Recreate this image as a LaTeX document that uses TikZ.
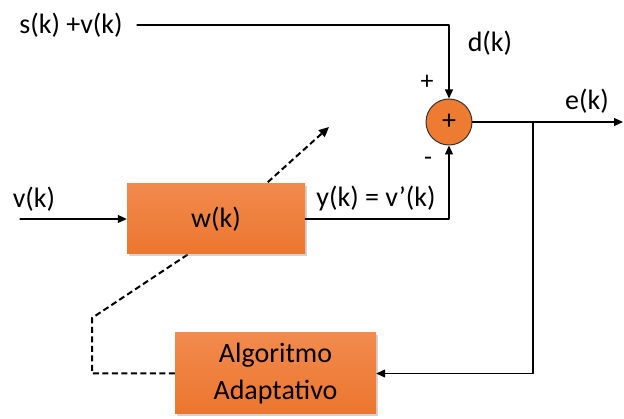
\documentclass[tikz,border=0pt]{standalone}
\usepackage{fontspec}
\setmainfont{Carlito}
\usetikzlibrary{arrows.meta,shadows,backgrounds}

\definecolor{boxtop}{RGB}{242,138,78}
\definecolor{boxbottom}{RGB}{236,118,46}
\definecolor{sumfill}{RGB}{237,124,50}

\begin{document}
\begin{tikzpicture}[
  x=1pt,
  y=-1pt,
  line cap=round,
  line join=round,
  font=\fontsize{28}{37}\selectfont,
  filter box/.style={rectangle, draw=none, top color=boxtop, bottom color=boxbottom,
    drop shadow={opacity=0.35, shadow xshift=2pt, shadow yshift=-2pt},
    align=center, inner sep=0pt},
  sum node/.style={circle, draw=black!80, fill=sumfill, line width=1pt,
    minimum size=46pt, inner sep=0pt},
  sig arrow/.style={->, >={Triangle[length=9pt,width=8pt]}, line width=1.1pt},
  adapt arrow/.style={->, >={Triangle[length=10pt,width=9pt]}, line width=2pt,
    line cap=butt, dash pattern=on 6pt off 3.5pt},
  sign label/.style={font=\fontsize{26}{30}\selectfont}
]
  \useasboundingbox (0,0) rectangle (624,419);

  % Blocks of the adaptive filter.
  \node[filter box, minimum width=178pt, minimum height=70pt] (wk) at (216,219) {w(k)};
  \node[filter box, minimum width=201pt, minimum height=81pt] (algo) at (275.5,373.5)
    {Algoritmo\\Adaptativo};
  \node[sum node] (sum) at (449,122) {+};

  % Signal labels.
  \node (svk) at (71,25) {s(k) +v(k)};
  \node (dk) at (490,43) {d(k)};
  \node (ek) at (587,101) {e(k)};
  \node (vk) at (34,199) {v(k)};
  \node (yk) at (376,199) {y(k) = v’(k)};
  \node[sign label] (plus) at (427,82) {+};
  \node[sign label] (minus) at (428,161) {-};

  \coordinate (sv start) at (137,25);
  \coordinate (v start) at (20,219);
  \coordinate (e end) at (623,122);
  \coordinate (branch) at (533,122);
  \coordinate (adapt corner) at (92,318);
  \coordinate (adapt mid) at (187,255);
  \coordinate (adapt tip) at (329,127);

  % Signal paths.
  \draw[sig arrow] (sv start) -| (sum.north);
  \draw[sig arrow] (v start) -- (wk.west);
  \draw[sig arrow] (wk.east) -| (sum.south);
  \draw[sig arrow] (sum.east) -- (e end);
  \draw[sig arrow] (branch) |- (algo.east);

  % Adaptation of the weights, behind the blocks.
  \begin{scope}[on background layer]
    \draw[adapt arrow] (algo.west) -| (adapt corner) -- (adapt mid) -- (adapt tip);
  \end{scope}
\end{tikzpicture}
\end{document}
